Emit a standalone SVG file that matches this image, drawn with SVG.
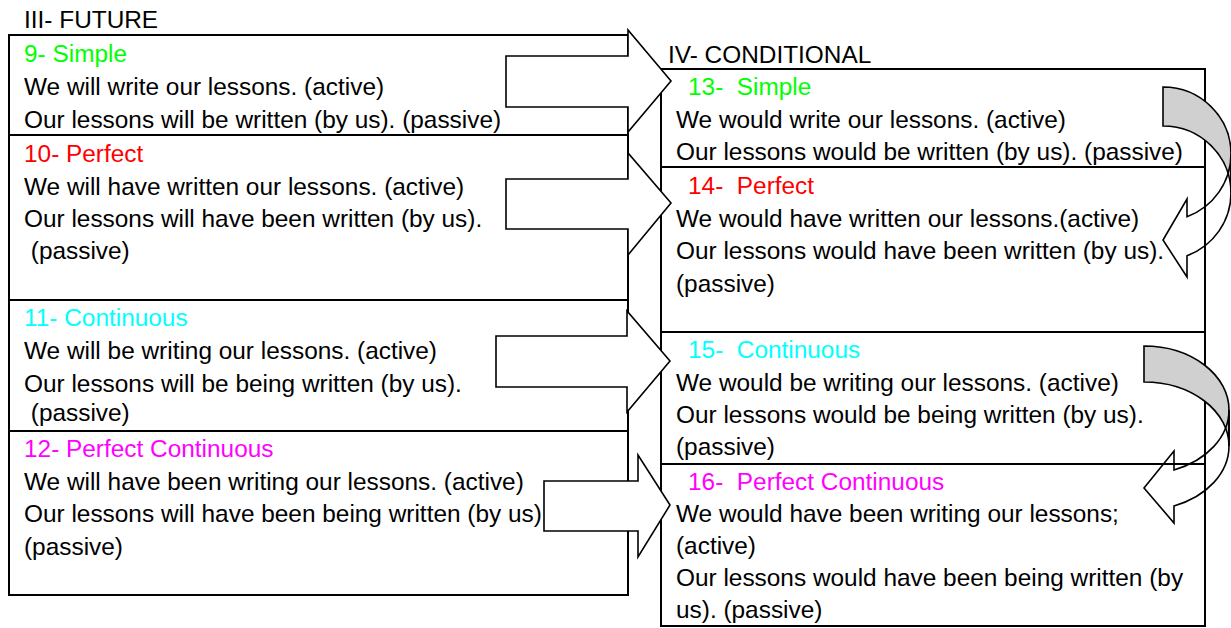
<svg xmlns="http://www.w3.org/2000/svg" width="1231" height="628" viewBox="0 0 1231 628">
<style>
.t{font-family:"Liberation Sans",Arial,sans-serif;font-size:24.4px;fill:#000;white-space:pre}
.g{fill:#00ff00}.r{fill:#ff0000}.c{fill:#00ffff}.m{fill:#ff00ff}
.box{fill:#fff;stroke:#000;stroke-width:2}
.blk{fill:#fff;stroke:#000;stroke-width:1.6;stroke-linejoin:miter}
.back{fill:#d0d0d0;stroke:#000;stroke-width:1.6}
.front{fill:none;stroke:#000;stroke-width:1.6}
</style>
<rect width="1231" height="628" fill="#fff"/>
<g id="future-heading"><text class="t" x="24" y="28">III- FUTURE</text></g>
<g id="cond-heading"><text class="t" x="668" y="63">IV- CONDITIONAL</text></g>

<g id="f9">
<rect class="box" x="9" y="35" width="619" height="100"/>
<text class="t g" x="24" y="62">9- Simple</text>
<text class="t" x="24" y="95">We will write our lessons. (active)</text>
<text class="t" x="24" y="128">Our lessons will be written (by us). (passive)</text>
</g>
<g id="f10">
<rect class="box" x="9" y="135" width="619" height="165"/>
<text class="t r" x="24" y="162">10- Perfect</text>
<text class="t" x="24" y="195">We will have written our lessons. (active)</text>
<text class="t" x="24" y="227">Our lessons will have been written (by us).</text>
<text class="t" x="24" y="259"> (passive)</text>
</g>
<g id="f11">
<rect class="box" x="9" y="300" width="619" height="131"/>
<text class="t c" x="24" y="326">11- Continuous</text>
<text class="t" x="24" y="359">We will be writing our lessons. (active)</text>
<text class="t" x="24" y="392">Our lessons will be being written (by us).</text>
<text class="t" x="24" y="421"> (passive)</text>
</g>
<g id="f12">
<rect class="box" x="9" y="431" width="619" height="164"/>
<text class="t m" x="24" y="457">12- Perfect Continuous</text>
<text class="t" x="24" y="490">We will have been writing our lessons. (active)</text>
<text class="t" x="24" y="522">Our lessons will have been being written (by us).</text>
<text class="t" x="24" y="555">(passive)</text>
</g>

<g id="c13">
<rect class="box" x="661" y="69" width="544" height="98"/>
<text class="t g" x="688" y="95">13-  Simple</text>
<text class="t" x="676" y="128">We would write our lessons. (active)</text>
<text class="t" x="676" y="160">Our lessons would be written (by us). (passive)</text>
</g>
<g id="c14">
<rect class="box" x="661" y="167" width="544" height="165"/>
<text class="t r" x="688" y="194">14-  Perfect</text>
<text class="t" x="676" y="227">We would have written our lessons.(active)</text>
<text class="t" x="676" y="259">Our lessons would have been written (by us).</text>
<text class="t" x="676" y="292">(passive)</text>
</g>
<g id="c15">
<rect class="box" x="661" y="332" width="544" height="132"/>
<text class="t c" x="688" y="358">15-  Continuous</text>
<text class="t" x="676" y="391">We would be writing our lessons. (active)</text>
<text class="t" x="676" y="423">Our lessons would be being written (by us).</text>
<text class="t" x="676" y="455">(passive)</text>
</g>
<g id="c16">
<rect class="box" x="661" y="464" width="544" height="162"/>
<text class="t m" x="688" y="490">16-  Perfect Continuous</text>
<text class="t" x="676" y="522">We would have been writing our lessons;</text>
<text class="t" x="676" y="554">(active)</text>
<text class="t" x="676" y="586">Our lessons would have been being written (by</text>
<text class="t" x="676" y="618">us). (passive)</text>
</g>

<g id="connectors">
<polygon class="blk" points="506,56 628,56 628,30 671,81 628,132 628,107 506,107"/>
<polygon class="blk" points="506,179 628,179 628,153 671,203 628,255 628,229 506,229"/>
<polygon class="blk" points="496,336 627,336 627,311 670,361 627,412 627,387 496,387"/>
<polygon class="blk" points="544,481 638,481 638,455 670,505 638,557 638,531 544,531"/>
<path class="back" d="M1163,87 A68,67 0 0 1 1231,154 L1231,193 A68,67 0 0 0 1163,126 Z"/>
<path class="front" d="M1231,154 A68,67 0 0 1 1187,216.7 L1187,199 L1163,240 L1187,277 L1187,255.7 A68,67 0 0 0 1231,193 Z"/>
<path class="back" d="M1144,346 A85,64 0 0 1 1229,410 L1229,446 A85,64 0 0 0 1144,382 Z"/>
<path class="front" d="M1229,410 A85,64 0 0 1 1174,469.9 L1174,451 L1144,488 L1174,523 L1174,505.9 A85,64 0 0 0 1229,446 Z"/>
</g>
</svg>
